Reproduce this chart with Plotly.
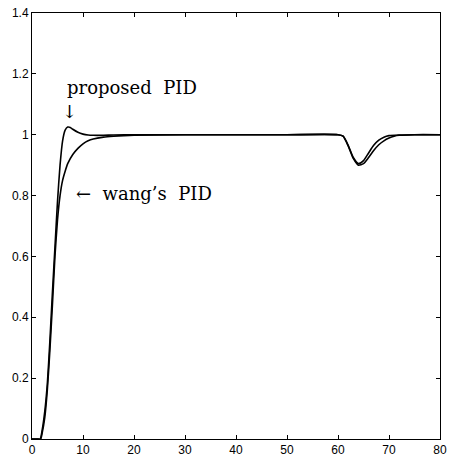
import plotly.graph_objects as go

# Proposed PID step response (time, output)
t_proposed = [0, 1, 1.6, 2, 2.5, 3, 3.5, 4, 4.5, 5, 5.5, 6, 6.5, 7, 7.5, 8, 9, 10, 11, 12, 14, 16, 20, 30, 40, 50,
              60, 61, 62, 63, 64, 65, 66, 67, 68, 69, 70, 72, 75, 80]
y_proposed = [0, 0, 0, 0.03, 0.09, 0.18, 0.32, 0.48, 0.63, 0.78, 0.9, 0.98, 1.015, 1.025, 1.024, 1.018, 1.008, 1.002,
              0.999, 0.998, 0.998, 0.999, 1, 1, 1, 1,
              1, 0.995, 0.965, 0.925, 0.905, 0.915, 0.94, 0.965, 0.982, 0.992, 0.997, 0.999, 1, 1]

# Wang's PID step response (time, output)
t_wang = [0, 1, 1.7, 2, 2.5, 3, 3.5, 4, 4.5, 5, 5.5, 6, 6.5, 7, 8, 9, 10, 11, 12, 14, 16, 18, 20, 30, 40, 50,
          60, 61, 62, 63, 64, 65, 66, 67, 68, 69, 70, 71, 72, 75, 80]
y_wang = [0, 0, 0, 0.02, 0.07, 0.16, 0.29, 0.44, 0.6, 0.72, 0.8, 0.85, 0.88, 0.905, 0.935, 0.955, 0.97, 0.98, 0.986,
          0.992, 0.995, 0.997, 0.998, 1, 1, 1,
          1, 0.995, 0.963, 0.922, 0.9, 0.905, 0.925, 0.948, 0.967, 0.98, 0.989, 0.995, 0.998, 1, 1]

x_ticks = [0, 10, 20, 30, 40, 50, 60, 70, 80]
y_ticks = [0, 0.2, 0.4, 0.6, 0.8, 1, 1.2, 1.4]
y_tick_labels = ["0", "0.2", "0.4", "0.6", "0.8", "1", "1.2", "1.4"]

fig = go.Figure()
fig.add_trace(go.Scatter(x=t_wang, y=y_wang, mode="lines", line=dict(color="black", width=1.6, shape="spline", smoothing=0.6),
                         name="wang's PID", showlegend=False))
fig.add_trace(go.Scatter(x=t_proposed, y=y_proposed, mode="lines", line=dict(color="black", width=1.6, shape="spline", smoothing=0.6),
                         name="proposed PID", showlegend=False))

serif = "DejaVu Serif, Liberation Serif, serif"
fig.add_annotation(x=7.0, y=1.155, xref="x", yref="y", text="proposed  PID", showarrow=False,
                   xanchor="left", yanchor="middle", xshift=-3, font=dict(family=serif, size=18, color="black"))
fig.add_annotation(x=7.3, y=1.075, xref="x", yref="y", text="↓", showarrow=False,
                   xanchor="center", yanchor="middle", font=dict(family=serif, size=18, color="black"))
fig.add_annotation(x=8.3, y=0.808, xref="x", yref="y", text="←  wang’s  PID", showarrow=False,
                   xanchor="left", yanchor="middle", font=dict(family=serif, size=18, color="black"))

axis_common = dict(showgrid=False, zeroline=False, showline=True, linecolor="black", linewidth=1,
                   mirror="ticks", ticks="inside", ticklen=4, tickcolor="black", automargin=False,
                   tickfont=dict(family="Liberation Sans, Arial, sans-serif", size=12, color="black"))

fig.update_xaxes(range=[0, 80], tickvals=x_ticks, **axis_common)
fig.update_yaxes(range=[0, 1.4], tickvals=y_ticks, ticktext=y_tick_labels, **axis_common)

fig.update_layout(width=458, height=465, margin=dict(l=32, r=18, t=13, b=26),
                  plot_bgcolor="white", paper_bgcolor="white")

fig.write_html("out.html", config={"displayModeBar": False},
               post_script="document.body.style.margin='0';")
